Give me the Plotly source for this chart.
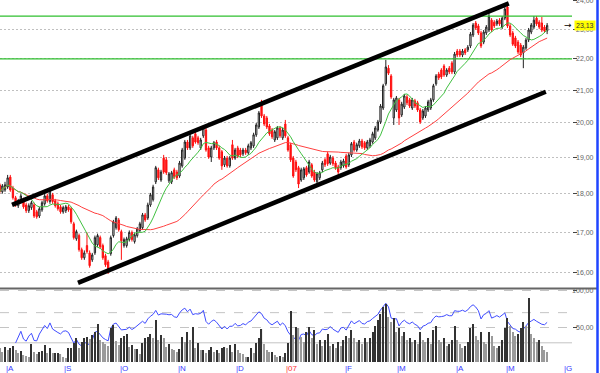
import numpy as np
import pandas as pd
import plotly.graph_objects as go

# ---------------- data ----------------
day = list(range(-2, 206))  # trading-day index (0 = 1 Aug 2006)

open_ = [
    18.24,18.05,18.10,18.18,18.45,18.15,17.89,17.68,17.79,17.84,
    17.70,17.55,17.63,17.70,17.52,17.41,17.57,17.73,17.94,17.79,
    17.97,17.81,17.73,17.65,17.52,17.55,17.65,17.60,17.21,16.83,
    16.91,16.56,16.36,16.66,16.48,16.31,16.48,16.68,16.86,16.66,
    16.41,16.26,16.46,16.91,17.11,17.31,17.01,16.66,16.66,16.81,
    16.99,16.76,16.91,17.04,17.11,17.44,17.36,17.70,17.84,18.32,
    18.65,18.37,18.98,18.93,18.35,18.32,18.65,18.59,18.48,18.76,
    18.98,19.44,19.27,19.56,19.68,19.56,19.27,19.62,19.79,19.27,
    19.01,19.27,19.44,19.27,19.16,18.79,18.98,18.76,19.36,18.98,
    19.27,19.21,19.10,19.21,19.13,19.27,19.33,19.65,19.88,20.57,
    20.21,20.15,19.91,19.79,19.50,19.56,19.85,19.56,19.97,19.56,
    19.36,18.98,18.87,18.71,18.37,18.43,18.71,18.59,18.79,18.59,
    18.32,18.43,18.65,18.93,19.10,18.84,18.98,18.84,18.73,18.71,
    18.76,19.04,18.79,19.07,19.44,19.21,19.33,19.47,19.42,19.27,
    19.33,19.44,19.56,19.79,20.03,20.45,21.20,21.70,21.45,20.15,
    20.39,20.70,20.24,20.48,20.79,20.70,20.45,20.67,20.61,20.39,
    20.15,20.21,20.39,20.45,20.70,21.20,21.51,21.64,21.77,21.48,
    21.70,21.87,21.58,22.26,22.26,22.13,22.30,22.30,22.43,22.80,
    23.21,23.11,22.87,22.56,22.87,22.97,23.31,23.24,23.18,23.31,
    23.07,23.38,23.77,23.11,22.87,22.70,22.56,22.46,22.20,22.36,
    22.63,22.90,23.07,23.38,23.24,23.21,23.07,22.94,
]
close = [
    18.05,18.21,18.24,18.43,18.10,17.89,17.70,17.81,17.94,17.65,
    17.55,17.68,17.76,17.41,17.39,17.60,17.76,17.94,17.81,18.08,
    17.79,17.68,17.60,17.52,17.63,17.65,17.57,17.26,16.86,17.01,
    16.56,16.36,16.48,16.51,16.17,16.43,16.86,16.91,16.63,16.36,
    16.19,16.05,16.86,17.26,17.36,17.06,16.78,16.81,16.83,16.99,
    16.81,16.93,17.08,17.21,17.44,17.31,17.70,17.97,18.18,18.71,
    18.43,18.59,18.59,18.57,18.54,18.57,18.46,18.43,18.84,19.21,
    19.44,19.27,19.62,19.33,19.44,19.42,19.50,19.85,19.21,19.01,
    19.27,19.42,19.27,18.98,18.76,18.98,18.76,18.98,18.98,19.21,
    19.04,19.07,19.21,19.13,19.33,19.42,19.65,19.94,20.30,20.21,
    19.97,19.88,19.68,19.59,19.74,19.85,19.62,19.79,19.62,19.21,
    18.93,18.48,18.65,18.26,18.65,18.68,18.51,18.87,18.48,18.37,
    18.54,18.57,18.84,18.79,18.82,19.01,18.82,18.71,18.59,18.87,
    18.90,18.73,19.07,19.39,19.21,19.36,19.47,19.30,19.27,19.44,
    19.50,19.68,19.85,20.03,20.51,21.14,21.74,21.54,20.79,20.70,
    20.76,20.15,20.57,20.82,20.61,20.51,20.70,20.51,20.39,20.03,
    20.36,20.45,20.64,20.70,21.14,21.45,21.39,21.42,21.48,21.64,
    21.58,21.58,22.16,22.13,22.13,22.26,22.20,22.39,22.83,23.14,
    23.04,22.87,22.43,22.90,23.07,23.45,22.97,23.11,23.28,23.18,
    23.38,23.70,23.11,22.80,22.49,22.43,22.23,22.13,22.39,22.63,
    22.97,23.14,23.31,23.18,23.07,22.97,22.94,23.13,
]
high = [
    18.29,18.26,18.32,18.51,18.51,18.21,17.94,17.86,18.00,17.89,
    17.76,17.74,17.81,17.76,17.57,17.65,17.81,18.00,18.00,18.15,
    18.02,17.86,17.79,17.70,17.68,17.70,17.70,17.65,17.26,17.06,
    16.96,16.61,16.54,16.99,16.54,16.48,16.91,16.96,16.91,16.71,
    16.46,16.31,16.91,17.31,17.41,17.36,17.06,16.86,16.88,17.04,
    17.04,16.99,17.13,17.26,17.49,17.49,17.76,18.02,18.24,18.76,
    18.71,18.65,19.07,19.01,18.59,18.62,18.71,18.65,18.90,19.27,
    19.50,19.50,19.68,19.62,19.74,19.62,19.56,19.91,19.85,19.33,
    19.33,19.47,19.50,19.33,19.21,19.04,19.04,19.04,19.50,19.27,
    19.33,19.27,19.27,19.27,19.39,19.47,19.71,20.00,20.36,20.70,
    20.27,20.21,19.97,19.85,19.79,19.91,19.91,19.85,20.09,19.62,
    19.42,19.04,18.93,18.76,18.71,18.73,18.76,18.93,18.84,18.65,
    18.59,18.62,18.90,18.98,19.16,19.07,19.04,18.90,18.79,18.93,
    18.96,19.10,19.13,19.44,19.50,19.42,19.53,19.53,19.47,19.50,
    19.56,19.74,19.91,20.09,20.57,21.20,21.97,21.80,21.51,20.76,
    20.82,20.76,20.64,20.88,20.85,20.76,20.76,20.73,20.67,20.45,
    20.42,20.51,20.70,20.76,21.20,21.51,21.58,21.70,21.83,21.70,
    21.77,21.93,22.23,22.33,22.33,22.33,22.36,22.46,22.90,23.21,
    23.28,23.18,22.94,22.97,23.14,23.56,23.38,23.31,23.35,23.38,
    23.45,23.77,23.95,23.18,22.94,22.77,22.63,22.53,22.46,22.70,
    23.04,23.21,23.45,23.45,23.31,23.42,23.14,23.21,
]
low = [
    18.00,18.00,18.05,18.13,18.05,17.84,17.65,17.62,17.74,17.60,
    17.49,17.49,17.57,17.36,17.34,17.36,17.52,17.68,17.76,17.73,
    17.73,17.63,17.55,17.47,17.47,17.49,17.52,17.21,16.81,16.78,
    16.51,16.31,16.31,16.46,16.12,16.26,16.43,16.63,16.58,16.31,
    16.14,15.97,16.41,16.86,17.06,17.01,16.31,16.61,16.61,16.76,
    16.76,16.71,16.86,16.99,17.06,17.26,17.31,17.65,17.79,18.26,
    18.37,18.32,18.54,18.51,18.29,18.26,18.40,18.37,18.43,18.71,
    18.93,19.21,19.21,19.27,19.39,19.36,19.21,19.56,19.16,18.96,
    18.87,19.21,19.21,18.93,18.65,18.73,18.71,18.71,18.93,18.93,
    18.98,19.01,19.04,19.07,19.07,19.21,19.27,19.59,19.82,20.15,
    19.91,19.82,19.62,19.53,19.44,19.50,19.56,19.50,19.56,19.16,
    18.87,18.43,18.59,18.15,18.32,18.37,18.46,18.54,18.43,18.32,
    18.26,18.37,18.59,18.73,18.76,18.79,18.76,18.65,18.51,18.65,
    18.71,18.68,18.73,19.01,19.16,19.16,19.27,19.24,19.21,19.21,
    19.27,19.39,19.50,19.74,19.97,20.39,21.14,21.48,20.73,19.94,
    20.33,19.94,20.18,20.42,20.54,20.45,20.39,20.45,20.33,19.97,
    20.09,20.15,20.33,20.39,20.64,21.14,21.32,21.35,21.42,21.42,
    21.51,21.51,21.51,22.06,22.06,22.06,22.13,22.23,22.36,22.73,
    22.97,22.80,22.36,22.49,22.80,22.90,22.90,23.04,23.11,23.11,
    23.00,23.31,23.04,22.73,22.43,22.36,22.16,22.06,21.70,22.30,
    22.56,22.83,23.00,23.11,23.00,22.90,22.87,22.83,
]
volume = [  # 10k shares
    14,10,15,12,14,16,12,9,11,7,
    6,5,18,10,8,10,11,17,9,14,
    9,9,9,8,5,4,14,14,19,24,
    14,20,24,25,23,27,30,38,22,20,
    18,16,34,37,21,17,24,26,28,15,
    17,13,13,8,19,24,25,28,24,42,
    22,27,24,15,18,13,12,10,13,25,
    20,30,22,35,14,19,12,12,9,12,
    15,10,12,9,14,15,14,17,10,18,
    12,9,8,5,5,14,9,19,24,33,
    18,12,10,10,7,5,6,5,9,19,
    51,27,35,34,25,20,30,35,24,32,
    18,22,16,22,28,16,18,14,20,16,
    22,26,24,32,24,20,22,18,24,20,
    24,30,36,42,48,55,58,45,40,44,
    30,34,26,30,22,24,20,22,18,30,
    22,20,24,18,32,36,22,20,24,16,
    18,22,36,22,18,14,16,20,34,38,
    26,22,30,20,18,30,26,16,14,16,
    22,34,44,36,30,26,28,34,40,36,
    64,28,24,20,22,16,12,10,
]

month_labels = ["A", "S", "O", "N", "D", "07", "F", "M", "A", "M", "G"]
month_idx = [0, 22, 43, 65, 87, 106, 128, 148, 170, 189, 211]

price_ticks = [16, 17, 18, 19, 20, 21, 22, 23, 24]
osc_ticks = [100, 50]
levels = [23.45, 22.00]                     # horizontal resistance/support
channel_day = [[2.65, 190.5], [27.6, 204.5]]  # trend channel anchors
channel_px = [[17.70, 23.90], [15.76, 20.95]]

# ---------------- derived indicators ----------------
s = pd.Series(close)
ma_fast = s.rolling(10, min_periods=1).mean()
ma_slow = s.rolling(40, min_periods=1).mean()
d = s.diff()
ag = d.clip(lower=0).ewm(alpha=1 / 14, adjust=True, min_periods=6).mean()
al = (-d.clip(upper=0)).ewm(alpha=1 / 14, adjust=True, min_periods=6).mean()
rsi = 100 - 100 / (1 + ag / al)

vol_colors = ["#999999"] + [
    "#333333" if volume[k] >= volume[k - 1] else "#9a9a9a" for k in range(1, len(volume))
]

# ---------------- geometry ----------------
W, H = 600, 373
ML, MR, MT, MB = 0, 28, 0, 9
PW, PH = W - ML - MR, H - MT - MB
split = (PH - 288) / PH
xr = [-1.89, 214.4]

fig = go.Figure()

fig.add_trace(go.Bar(x=day, y=volume, xaxis="x", yaxis="y3", width=0.42,
                     marker=dict(color=vol_colors, line=dict(width=0)), hoverinfo="skip"))
fig.add_trace(go.Scatter(x=day, y=rsi, xaxis="x", yaxis="y2", mode="lines",
                         line=dict(color="#3f4cff", width=1)))

for lv in levels:
    fig.add_trace(go.Scatter(x=xr, y=[lv, lv], mode="lines", xaxis="x", yaxis="y",
                             line=dict(color="#2fbf2f", width=1.3), hoverinfo="skip"))

fig.add_trace(go.Scatter(x=day, y=ma_slow, mode="lines", xaxis="x", yaxis="y",
                         line=dict(color="#ff4040", width=1)))
fig.add_trace(go.Scatter(x=day, y=ma_fast, mode="lines", xaxis="x", yaxis="y",
                         line=dict(color="#40c040", width=1)))

fig.add_trace(go.Candlestick(
    x=day, open=open_, high=high, low=low, close=close, xaxis="x", yaxis="y",
    increasing=dict(line=dict(color="#222222", width=1), fillcolor="#ffffff"),
    decreasing=dict(line=dict(color="#ff1010", width=1), fillcolor="#ff1010"),
    whiskerwidth=0,
))

for cx, cy in zip(channel_day, channel_px):
    fig.add_trace(go.Scatter(x=cx, y=cy, mode="lines", xaxis="x", yaxis="y",
                             line=dict(color="#000000", width=4.5), hoverinfo="skip"))

# ---------------- annotations ----------------
ann = []
lab_x = 596 / PW
lab_font = dict(family="Liberation Sans, Arial, sans-serif", size=7, color="#666666")
for v in price_ticks:
    ann.append(dict(xref="paper", yref="y", x=lab_x, y=np.log10(v), text=f"{v},00",
                    xanchor="right", yanchor="middle", showarrow=False, font=lab_font))
for v in osc_ticks:
    ann.append(dict(xref="paper", yref="y2", x=lab_x, y=v, text=f"{v},00",
                    xanchor="right", yanchor="middle", showarrow=False, font=lab_font))
last = close[-1]
ann.append(dict(xref="paper", yref="y", x=lab_x, y=np.log10(last),
                text=f"{last:.2f}".replace(".", ","), xanchor="right", yanchor="middle",
                showarrow=False, bgcolor="#ffff00", borderpad=1,
                font=dict(family="Liberation Sans, Arial, sans-serif", size=7, color="#333333")))
ann.append(dict(xref="paper", yref="y", x=568 / PW, y=np.log10(last), text="→",
                xanchor="center", yanchor="middle", showarrow=False,
                font=dict(family="DejaVu Sans", size=9, color="#000000")))
for lab, mi in zip(month_labels, month_idx):
    ann.append(dict(xref="x", yref="paper", x=mi, y=-4.0 / PH, text="|" + lab,
                    xanchor="left", yanchor="middle", xshift=-1, showarrow=False,
                    font=dict(family="Liberation Sans, Arial, sans-serif", size=8,
                              color="#ff3030" if lab == "07" else "#3a3aff")))

border_x = 597.5 / PW
shapes = [
    dict(type="line", xref="paper", yref="paper", x0=0, x1=597 / PW,
         y0=(PH - 288.5) / PH, y1=(PH - 288.5) / PH, line=dict(color="#666666", width=2)),
    dict(type="line", xref="paper", yref="paper", x0=border_x, x1=border_x,
         y0=0, y1=1, line=dict(color="#1f45ff", width=2.5)),
    dict(type="line", xref="paper", yref="paper", x0=border_x, x1=border_x,
         y0=-MB / PH, y1=0, line=dict(color="#1f45ff", width=2.5)),
    dict(type="line", xref="paper", yref="y2", x0=0, x1=1, y0=70, y1=70,
         line=dict(color="#c4c4c4", width=1, dash="dash"), layer="below"),
    dict(type="line", xref="paper", yref="y2", x0=0, x1=1, y0=30, y1=30,
         line=dict(color="#c4c4c4", width=1), layer="below"),
]

fig.update_layout(
    width=W, height=H, margin=dict(l=ML, r=MR, t=MT, b=MB),
    paper_bgcolor="#ffffff", plot_bgcolor="#ffffff", showlegend=False,
    annotations=ann, shapes=shapes,
    xaxis=dict(domain=[0, 1], range=xr, anchor="y2", showticklabels=False, showgrid=False,
               zeroline=False, showline=False, ticks="", rangeslider=dict(visible=False)),
    yaxis=dict(domain=[split, 1], type="log", range=[np.log10(15.64), np.log10(24.02)],
               side="right", anchor="x", tickvals=price_ticks, showticklabels=False,
               ticks="outside", ticklen=4, tickcolor="#444444",
               showgrid=True, gridcolor="#c0c0c0", griddash="2px,2px", zeroline=False),
    yaxis2=dict(domain=[0, split], range=[1.9, 102.7], side="right", anchor="x",
                tickvals=osc_ticks, showticklabels=False, ticks="outside", ticklen=4,
                tickcolor="#444444", showgrid=True, gridcolor="#c4c4c4", griddash="dash",
                zeroline=False),
    yaxis3=dict(domain=[0, split], overlaying="y2", range=[-2, 74], visible=False),
)

fig.write_html("out.html", config={"displayModeBar": False},
               post_script="document.body.style.margin='0';")
